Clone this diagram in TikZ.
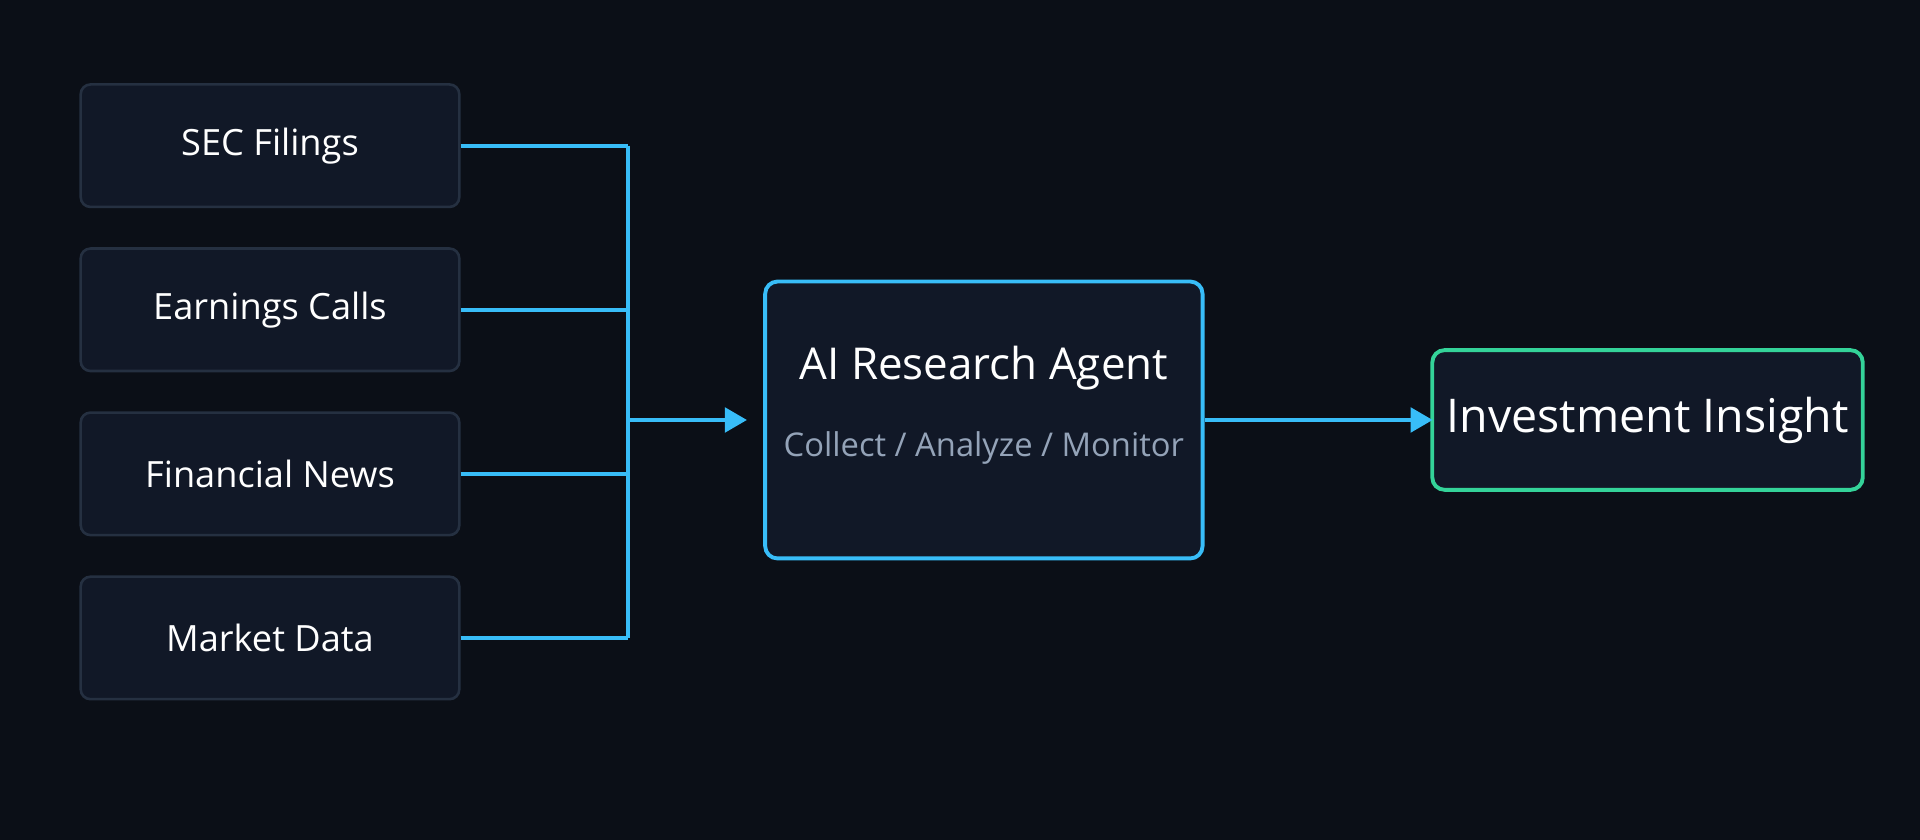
\documentclass[tikz,border=0pt]{standalone}
\usepackage{fontspec}
\setmainfont{Open Sans}
\usetikzlibrary{arrows.meta}
\definecolor{bg}{HTML}{0B0F17}
\definecolor{boxfill}{HTML}{111827}
\definecolor{boxline}{HTML}{253041}
\definecolor{accent}{HTML}{38BDF8}
\definecolor{ok}{HTML}{34D399}
\definecolor{sub}{HTML}{94A3B8}
\begin{document}
\begin{tikzpicture}[x=0.01cm,y=-0.01cm,
  src/.style={draw=boxline,fill=boxfill,rounded corners=0.08cm,line width=0.6pt,minimum width=3.09cm,minimum height=1.0cm,text=white,font=\fontsize{8.4}{10}\selectfont},
  wire/.style={accent,line width=0.9pt},
  arr/.style={wire,-{Triangle[length=0.18cm,width=0.2cm]}}]
\fill[bg] (0,0) rectangle (1568,686);
\node[src] (s1) at (220.5,119) {SEC Filings};
\node[src] (s2) at (220.5,253) {Earnings Calls};
\node[src] (s3) at (220.5,387) {Financial News};
\node[src] (s4) at (220.5,521) {Market Data};
\coordinate (b1) at (513,119);
\coordinate (b2) at (513,253);
\coordinate (b3) at (513,387);
\coordinate (b4) at (513,521);
\coordinate (bm) at (513,343);
\coordinate (in) at (610,343);
\draw[wire] (s1.east) -- (b1);
\draw[wire] (s2.east) -- (b2);
\draw[wire] (s3.east) -- (b3);
\draw[wire] (s4.east) -- (b4);
\draw[wire] (b1) -- (b4);
\draw[arr] (bm) -- (in);
\node[draw=accent,fill=boxfill,rounded corners=0.1cm,line width=0.9pt,minimum width=3.57cm,minimum height=2.26cm] (ag) at (803.5,343) {};
\node[text=white,font=\fontsize{10.2}{12}\selectfont] (t) at (803.5,301) {AI Research Agent};
\node[text=sub,font=\fontsize{7.6}{9}\selectfont] (st) at (803.5,366) {Collect / Analyze / Monitor};
\node[draw=ok,fill=boxfill,rounded corners=0.1cm,line width=0.9pt,minimum width=3.23cm,minimum height=1.14cm,text=white,font=\fontsize{10.8}{13}\selectfont] (ins) at (1345.5,343) {Investment Insight};
\coordinate (out) at (1170,343);
\draw[arr] (ag.east) -- (out);
\end{tikzpicture}
\end{document}
